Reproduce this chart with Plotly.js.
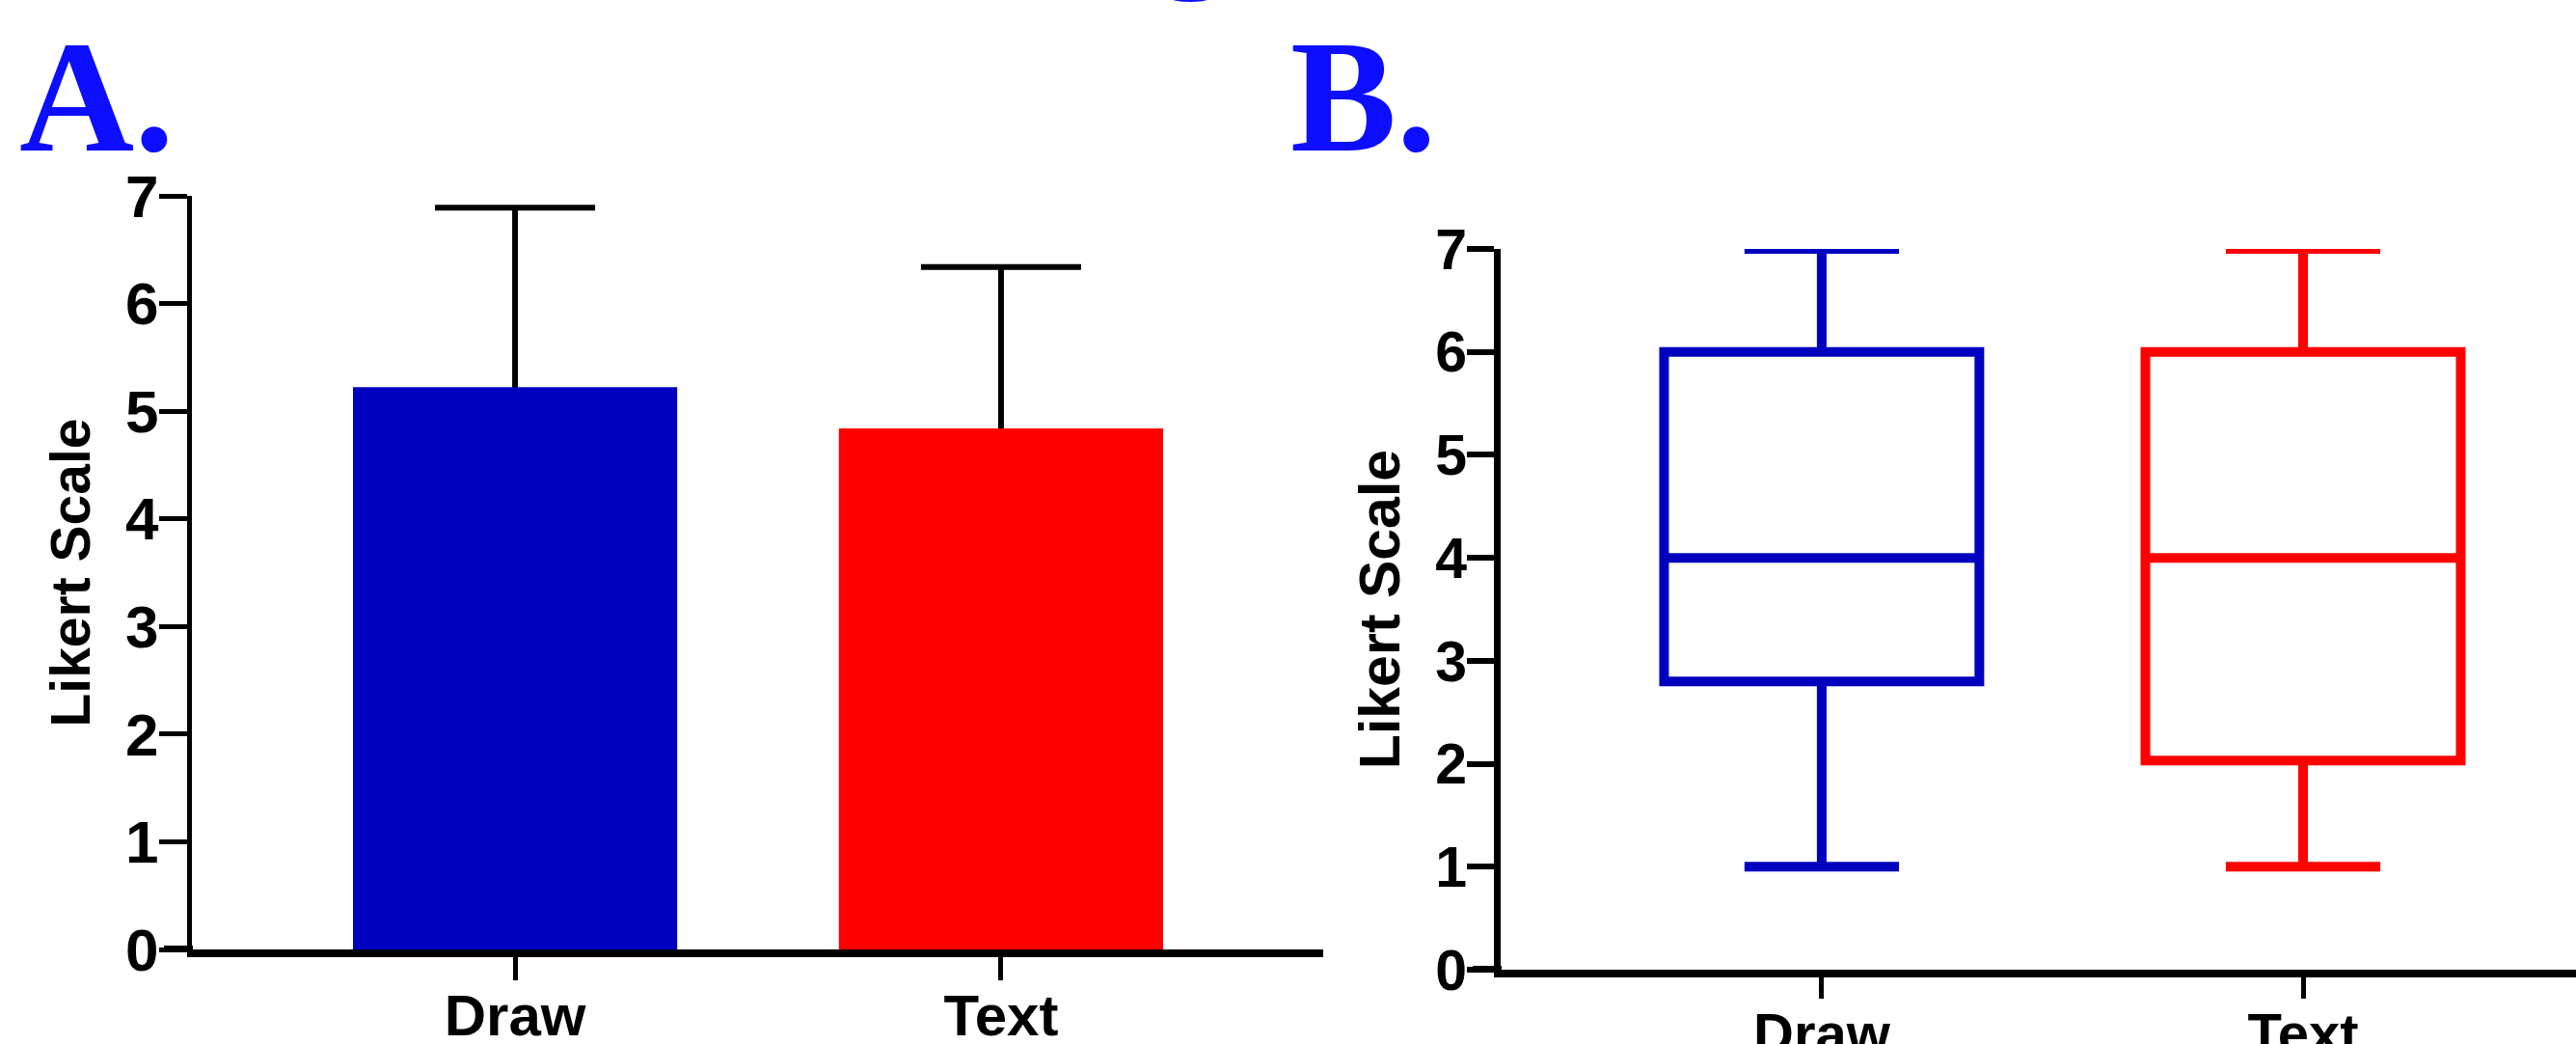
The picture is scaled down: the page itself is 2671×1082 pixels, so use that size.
<!DOCTYPE html>
<html><head><meta charset="utf-8">
<script src="https://cdn.plot.ly/plotly-3.0.1.min.js"></script>
<style>html,body{margin:0;padding:0;background:#fff;overflow:hidden}#chart{width:2671px;height:1082px}</style>
</head><body><div id="chart"></div>
<script>
// ---- data ----
const categories = ['Draw', 'Text'];
const barMeans = [5.22, 4.84];
const barSD = [1.67, 1.50];
const boxMin = [1, 1];
const boxQ1 = [2.8, 2.03];
const boxMedian = [4, 4];
const boxQ3 = [6, 6];
const boxMax = [7, 7];
const yTickVals = [0, 1, 2, 3, 4, 5, 6, 7];
const yTickText = ['0', '1', '2', '3', '4', '5', '6', '7'];
const panelLabels = ['A.', 'B.'];
const yTitle = 'Likert Scale';

// ---- styling ----
const colors = ['#0000bf', '#ff0000'];
const W = 2671, H = 1082;
const px = x => x / W;
const py = y => (H - y) / H;
const sans = '"Liberation Sans", Arial, sans-serif';
const serif = '"Liberation Serif", "Times New Roman", serif';

const traces = [
  { // bars carrying the error bars (lower half hidden by bars drawn on top)
    type: 'bar', x: categories, y: barMeans, width: 0.667,
    marker: { color: colors, line: { width: 0 } },
    error_y: { type: 'data', array: barSD, visible: true, color: '#000', thickness: 6, width: 83 },
    xaxis: 'x', yaxis: 'y', showlegend: false, hoverinfo: 'skip'
  },
  {
    type: 'bar', x: categories, y: barMeans, width: 0.667,
    marker: { color: colors, line: { width: 0 } },
    xaxis: 'x', yaxis: 'y', showlegend: false
  }
];
categories.forEach((c, i) => {
  traces.push({
    type: 'box', x: [c], q1: [boxQ1[i]], median: [boxMedian[i]], q3: [boxQ3[i]],
    lowerfence: [boxMin[i]], upperfence: [boxMax[i]],
    width: 0.655, whiskerwidth: 0.49, boxpoints: false,
    line: { color: colors[i], width: 10 }, fillcolor: 'rgba(0,0,0,0)',
    xaxis: 'x2', yaxis: 'y2', showlegend: false
  });
});

const xFontA = { family: sans, size: 60, color: '#000', weight: 'bold' };
const yFontA = { family: sans, size: 62, color: '#000', weight: 'bold' };
const xFontB = { family: sans, size: 58, color: '#000', weight: 'bold' };
const yFontB = { family: sans, size: 59, color: '#000', weight: 'bold' };

const layout = {
  width: W, height: H,
  margin: { l: 0, r: 0, t: 0, b: 0, pad: 0 },
  paper_bgcolor: '#fff', plot_bgcolor: 'rgba(0,0,0,0)',
  barmode: 'overlay', boxmode: 'overlay', showlegend: false,
  xaxis: {
    domain: [px(199), px(1372)], anchor: 'y', type: 'category',
    categoryorder: 'array', categoryarray: categories, range: [-0.665, 1.663],
    showline: true, linecolor: '#000', linewidth: 8, showgrid: false, zeroline: false,
    ticks: 'outside', ticklen: 24, tickwidth: 5, tickcolor: '#000', tickfont: xFontA,
    ticklabelstandoff: -15
  },
  yaxis: {
    domain: [py(984), py(203)], anchor: 'x', range: [0, 7],
    tickmode: 'array', tickvals: yTickVals, ticktext: yTickText,
    showline: true, linecolor: '#000', linewidth: 5, showgrid: false, zeroline: false,
    ticks: 'outside', ticklen: 29, tickwidth: 5, tickcolor: '#000', tickfont: yFontA,
    ticklabelstandoff: -12,
    title: { text: yTitle, font: { family: sans, size: 57, color: '#000', weight: 'bold' }, standoff: 20 }
  },
  xaxis2: {
    domain: [px(1556), 1], anchor: 'y2', type: 'category',
    categoryorder: 'array', categoryarray: categories, range: [-0.667, 1.567],
    showline: true, linecolor: '#000', linewidth: 8, showgrid: false, zeroline: false,
    ticks: 'outside', ticklen: 22, tickwidth: 5, tickcolor: '#000', tickfont: xFontB,
    ticklabelstandoff: -14
  },
  yaxis2: {
    domain: [py(1005), py(258)], anchor: 'x2', range: [0, 7],
    tickmode: 'array', tickvals: yTickVals, ticktext: yTickText,
    showline: true, linecolor: '#000', linewidth: 7, showgrid: false, zeroline: false,
    ticks: 'outside', ticklen: 28, tickwidth: 6, tickcolor: '#000', tickfont: yFontB,
    ticklabelstandoff: -12,
    title: { text: yTitle, font: { family: sans, size: 59, color: '#000', weight: 'bold' }, standoff: 20 }
  },
  shapes: [
    { type: 'line', xref: 'paper', yref: 'y', x0: px(170), x1: px(200), y0: 0, y1: 0, line: { color: '#000', width: 8 } },
    { type: 'line', xref: 'paper', yref: 'y2', x0: px(1527), x1: px(1557), y0: 0, y1: 0, line: { color: '#000', width: 8 } }
  ],
  annotations: [
    { text: panelLabels[0], xref: 'paper', yref: 'paper', x: px(18), y: py(194), xanchor: 'left', yanchor: 'bottom',
      showarrow: false, font: { family: serif, size: 165, color: '#0d0dff', weight: 'bold' } },
    { text: panelLabels[1], xref: 'paper', yref: 'paper', x: px(1336), y: py(194), xanchor: 'left', yanchor: 'bottom',
      showarrow: false, font: { family: serif, size: 165, color: '#0d0dff', weight: 'bold' } },
    { text: 'g', xref: 'paper', yref: 'paper', x: px(1236), y: py(4), xanchor: 'center', yanchor: 'bottom',
      showarrow: false, font: { family: serif, size: 165, color: '#0d0dff', weight: 'bold' } }
  ]
};

Plotly.newPlot('chart', traces, layout, { staticPlot: true, displayModeBar: false });
</script>
</body></html>
